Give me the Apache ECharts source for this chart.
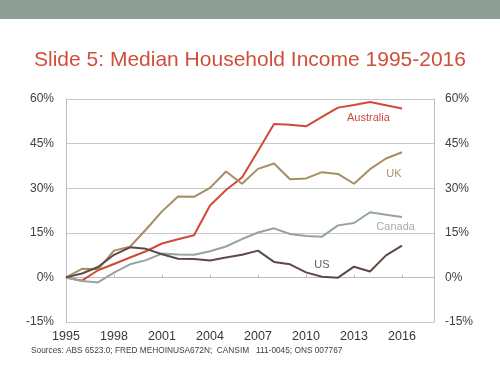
<!DOCTYPE html>
<html>
<head>
<meta charset="utf-8">
<script src="https://cdn.jsdelivr.net/npm/echarts@6/dist/echarts.min.js"></script>
<style>html,body{margin:0;padding:0;background:#fff}#c{width:500px;height:375px}</style>
</head>
<body>
<div id="c"></div>
<script>
var years = [1995,1996,1997,1998,1999,2000,2001,2002,2003,2004,2005,2006,2007,2008,2009,2010,2011,2012,2013,2014,2015,2016];
var australia = [0,-1.1,2.4,4.5,6.7,8.8,11.4,12.8,14.2,24.2,29.4,33.6,42.5,51.6,51.3,50.8,54.0,57.1,58.0,59.0,57.9,56.8];
var uk = [0,2.9,2.7,9.0,10.3,16.1,22.2,27.2,27.1,30.1,35.6,31.5,36.5,38.3,33.0,33.3,35.4,34.8,31.5,36.4,40.0,42.1];
var canada = [0,-1.2,-1.7,1.6,4.4,5.8,8.0,7.7,7.6,8.8,10.4,12.9,15.1,16.5,14.6,13.9,13.7,17.5,18.3,21.9,21.1,20.3];
var us = [0,1.3,3.5,7.6,10.1,9.6,7.8,6.3,6.2,5.7,6.7,7.6,9.0,5.2,4.4,1.7,0.2,-0.1,3.6,2.0,7.4,10.7];
var seriesNames = ['Australia','UK','Canada','US'];
var yTicks = [-15,0,15,30,45,60];
var xTicks = [1995,1998,2001,2004,2007,2010,2013,2016];

function pairs(vals){ return years.map(function(y,i){ return [y, vals[i]]; }); }

var colors = {Australia:'#d04a36', UK:'#a68d64', Canada:'#95a4a0', US:'#5e4a44'};
var labelColors = {Australia:'#cc4b37', UK:'#a8916a', Canada:'#a3aeac', US:'#6b5a55'};
var labelAt = {Australia:[2013.9,53.6], UK:[2015.5,34.7], Canada:[2015.6,16.8], US:[2011.0,4.2]};
var dataMap = {Australia:australia, UK:uk, Canada:canada, US:us};

var chart = echarts.init(document.getElementById('c'), null, {renderer:'canvas'});
var axisLabelStyle = {color:'#404040', fontSize:12, fontFamily:'Liberation Sans, Arial, sans-serif'};
var option = {
  animation:false,
  backgroundColor:'#ffffff',
  title:{
    text:'Slide 5: Median Household Income 1995-2016',
    left:'center', top:45,
    textStyle:{color:'#cf4f3a', fontSize:21, fontWeight:'normal', fontFamily:'Liberation Sans, Arial, sans-serif'}
  },
  graphic:[
    {type:'rect', left:0, top:0, shape:{width:500, height:19}, style:{fill:'#8f9e97'}},
    {type:'text', left:31, top:347, style:{text:'Sources: ABS 6523.0; FRED MEHOINUSA672N;  CANSIM   111-0045; ONS 007767', fill:'#404040', fontSize:8.3, fontFamily:'Liberation Sans, Arial, sans-serif'}}
  ],
  grid:{left:66, right:66, top:99, bottom:53},
  xAxis:{
    type:'value', min:1995, max:2018, interval:3,
    axisLine:{show:true, lineStyle:{color:'#bdbdbd', width:1}},
    axisTick:{show:true, inside:true, length:3, lineStyle:{color:'#bdbdbd'}},
    splitLine:{show:false},
    axisLabel:{margin:8, showMaxLabel:false, fontSize:12.5, color:'#383838', fontFamily:'Liberation Sans, Arial, sans-serif',
      formatter:function(v){ return xTicks.indexOf(v)>=0 ? String(v) : ''; }}
  },
  yAxis:[
    {type:'value', position:'left', min:yTicks[0], max:yTicks[yTicks.length-1], interval:15,
     axisLine:{show:true, lineStyle:{color:'#bdbdbd'}}, axisTick:{show:false},
     splitLine:{show:true, lineStyle:{color:'#c8c8c8', width:1}},
     axisLabel:Object.assign({margin:12, formatter:'{value}%'}, axisLabelStyle)},
    {type:'value', position:'right', min:yTicks[0], max:yTicks[yTicks.length-1], interval:15,
     axisLine:{show:true, lineStyle:{color:'#bdbdbd'}}, axisTick:{show:false},
     splitLine:{show:false},
     axisLabel:Object.assign({margin:11, formatter:'{value}%'}, axisLabelStyle)}
  ],
  series: seriesNames.map(function(n){
    return {
      name:n, type:'line', data:pairs(dataMap[n]), showSymbol:false, symbol:'none',
      lineStyle:{color:colors[n], width:2}, itemStyle:{color:colors[n]},
      markPoint:{symbol:'circle', symbolSize:0, silent:true,
        label:{show:true, position:'inside', formatter:n, color:labelColors[n], fontSize:11, fontFamily:'Liberation Sans, Arial, sans-serif'},
        data:[{coord:labelAt[n], value:n}]}
    };
  })
};
chart.setOption(option);
</script>
</body>
</html>
